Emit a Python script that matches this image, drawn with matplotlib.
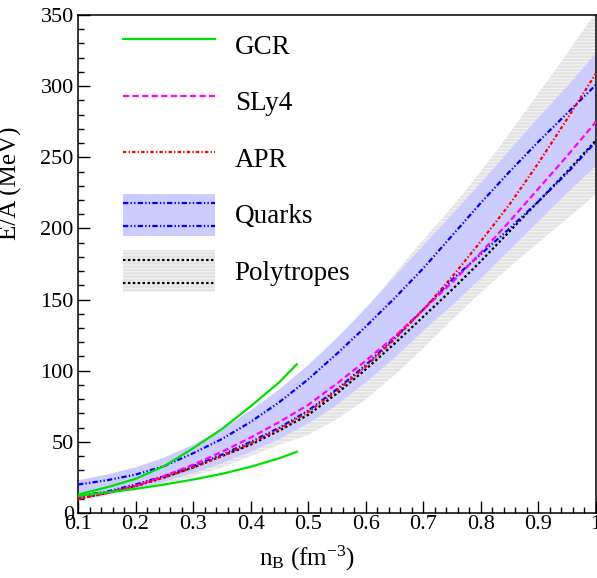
import matplotlib
matplotlib.use("Agg")
import matplotlib.pyplot as plt
from matplotlib.ticker import MultipleLocator, FixedLocator, FixedFormatter
from matplotlib.legend_handler import HandlerBase
from matplotlib.patches import Rectangle
from matplotlib.lines import Line2D

plt.rcParams['font.family'] = ['Liberation Serif', 'DejaVu Serif']
plt.rcParams['mathtext.fontset'] = 'custom'
plt.rcParams['mathtext.rm'] = 'Liberation Serif'
plt.rcParams['mathtext.it'] = 'Liberation Serif:italic'
plt.rcParams['hatch.linewidth'] = 0.7

# ---------------- data ----------------
nb = [0.10, 0.15, 0.20, 0.25, 0.30, 0.35, 0.40, 0.45, 0.50, 0.55,
      0.60, 0.65, 0.70, 0.75, 0.80, 0.85, 0.90, 0.95, 1.00]

poly_band_hi = [13, 18, 24, 31, 40, 51, 64, 80, 98, 120,
                143, 168, 192, 215, 240, 267, 295, 323, 352]
poly_band_lo = [9, 12, 16, 20, 26, 32, 40, 48, 55, 66,
                80, 97, 116, 136, 155, 173, 190, 207, 224]
poly_line = [10, 14, 19, 25, 32, 40, 48, 58, 69, 84,
             101, 119, 138, 157, 177, 198, 219, 240, 262]

quark_band_hi = [23, 27, 32, 39, 48, 59, 72, 87, 104, 123,
                 144, 166, 188, 210, 232, 255, 278, 300, 323]
quark_band_lo = [10, 13, 17, 22, 28, 35, 43, 52, 63, 76,
                 92, 109, 128, 146, 165, 185, 205, 225, 244]
quark_hi = [20, 23, 27, 33, 42, 52, 64, 78, 94, 112,
            131, 151, 172, 195, 218, 240, 261, 281, 301]
quark_lo = [12, 15, 20, 26, 33, 41, 50, 60, 72, 87,
            104, 123, 143, 164, 182, 200, 219, 239, 261]

sly4 = [10, 14, 19, 26, 34, 43, 53, 64, 76, 91,
        107, 124, 143, 162, 183, 205, 228, 251, 275]
apr = [10, 14, 19, 25, 32, 40, 49, 59, 71, 86,
       103, 122, 143, 166, 191, 217, 246, 277, 309]

nb_gcr = [0.10, 0.15, 0.20, 0.25, 0.30, 0.35, 0.40, 0.45, 0.48]
gcr_hi = [13, 18, 24, 33, 45.5, 59, 75, 92, 104.5]
gcr_lo = [12, 14.5, 17, 20, 23.5, 27.5, 32.5, 38.5, 43]

xticks = [0.1, 0.2, 0.3, 0.4, 0.5, 0.6, 0.7, 0.8, 0.9, 1.0]
xticklabels = ['0.1', '0.2', '0.3', '0.4', '0.5', '0.6', '0.7', '0.8', '0.9', '1']
yticks = [0, 50, 100, 150, 200, 250, 300, 350]

# ---------------- styles ----------------
C_GCR = '#00e000'
C_SLY = '#ff00ff'
C_APR = '#ff0000'
C_Q = '#0000ff'
C_QBAND = '#ccccff'
C_PBAND = '#e2e2e2'
C_PHATCH = '#f6f6f6'
P_HATCH = '-----'
LW = 1.6
LS_SLY = (0, (2.8, 1.5))
LS_APR = (0, (1.5, 1.0, 0.6, 1.0))
LS_Q = (0, (2.4, 1.0, 0.6, 1.0, 0.6, 1.0))
LS_P = (0, (1.1, 1.1))

fig = plt.figure(figsize=(5.97, 5.78), dpi=100)
ax = fig.add_axes([78 / 597, 65 / 578, 518 / 597, 498 / 578])

ax.fill_between(nb, poly_band_lo, poly_band_hi, facecolor=C_PBAND,
                edgecolor=C_PHATCH, hatch=P_HATCH, linewidth=0, zorder=1)
ax.fill_between(nb, quark_band_lo, quark_band_hi, facecolor=C_QBAND,
                edgecolor='none', linewidth=0, zorder=2)

ax.plot(nb, poly_line, color='black', lw=LW, ls=LS_P, zorder=3)
ax.plot(nb, quark_lo, color=C_Q, lw=LW, ls=LS_Q, zorder=4)
ax.plot(nb, quark_hi, color=C_Q, lw=LW, ls=LS_Q, zorder=4)
ax.plot(nb, sly4, color=C_SLY, lw=LW, ls=LS_SLY, zorder=5)
ax.plot(nb, apr, color=C_APR, lw=LW, ls=LS_APR, zorder=6)
ax.plot(nb_gcr, gcr_hi, color=C_GCR, lw=LW, zorder=7)
ax.plot(nb_gcr, gcr_lo, color=C_GCR, lw=LW, zorder=7)

ax.set_xlim(0.1, 1.0)
ax.set_ylim(0, 350)
ax.xaxis.set_major_locator(FixedLocator(xticks))
ax.xaxis.set_major_formatter(FixedFormatter(xticklabels))
ax.xaxis.set_minor_locator(MultipleLocator(0.02))
ax.yaxis.set_major_locator(FixedLocator(yticks))
ax.yaxis.set_minor_locator(MultipleLocator(10))
ax.tick_params(which='both', direction='in', top=False, right=False,
               labelsize=16, width=1.0, color='black')
ax.tick_params(which='major', length=8.5)
ax.tick_params(which='minor', length=4.3)
ax.tick_params(axis='x', pad=1.5)
ax.tick_params(axis='y', pad=3)
for s in ax.spines.values():
    s.set_linewidth(1.1)

ax.set_xlabel(r'n$_{\mathrm{B}}$ (fm$^{\mathrm{-3}}$)', fontsize=18)
ax.xaxis.set_label_coords(0.442, -0.062)
ax.set_ylabel('E/A (MeV)', fontsize=18)
ax.yaxis.set_label_coords(-0.108, 0.663)


class BandHandler(HandlerBase):
    def __init__(self, face, edge, hatch, lcolor, ls):
        super().__init__()
        self.face, self.edge, self.hatch = face, edge, hatch
        self.lcolor, self.ls = lcolor, ls

    def create_artists(self, legend, orig_handle, xdescent, ydescent,
                       width, height, fontsize, trans):
        x0, y0 = -xdescent, -ydescent
        rect = Rectangle((x0, y0), width, height, facecolor=self.face,
                         edgecolor=self.edge, hatch=self.hatch, lw=0,
                         transform=trans)
        arts = [rect]
        for f in (0.23, 0.77):
            arts.append(Line2D([x0, x0 + width], [y0 + f * height] * 2,
                               color=self.lcolor, lw=LW, ls=self.ls,
                               transform=trans))
        return arts


h_gcr = Line2D([], [], color=C_GCR, lw=LW)
h_sly = Line2D([], [], color=C_SLY, lw=LW, ls=LS_SLY)
h_apr = Line2D([], [], color=C_APR, lw=LW, ls=LS_APR)
h_q = Rectangle((0, 0), 1, 1)
h_p = Rectangle((0, 0), 1, 1)
leg = ax.legend([h_gcr, h_sly, h_apr, h_q, h_p],
                ['GCR', 'SLy4', 'APR', 'Quarks', 'Polytropes'],
                handler_map={h_q: BandHandler(C_QBAND, 'none', None, C_Q, LS_Q),
                             h_p: BandHandler(C_PBAND, C_PHATCH, P_HATCH, 'black', LS_P)},
                loc='upper left', bbox_to_anchor=(0.087, 0.981),
                frameon=False, fontsize=19.5, handlelength=3.38,
                handleheight=2.0, labelspacing=0.54, handletextpad=0.74,
                borderpad=0, borderaxespad=0)

fig.savefig('out.png', dpi=100)
